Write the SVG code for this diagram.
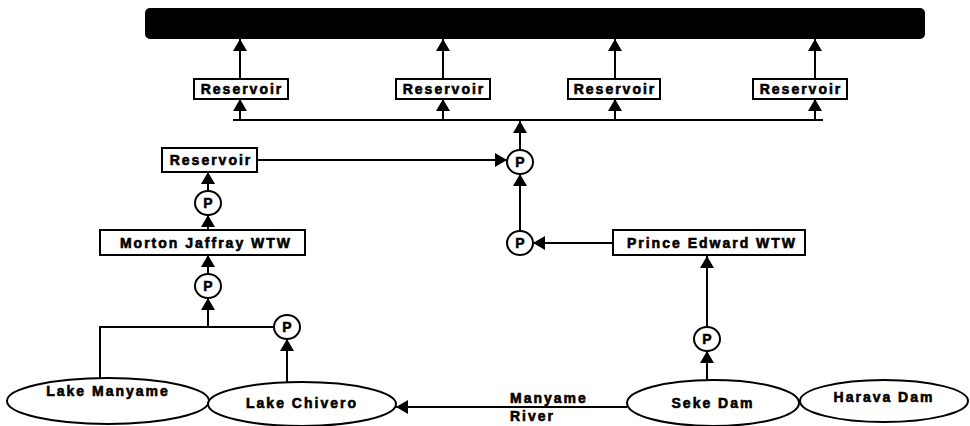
<svg xmlns="http://www.w3.org/2000/svg" width="970" height="426" viewBox="0 0 970 426">
<defs>
<marker id="ah" viewBox="0 0 12 14" refX="12" refY="7" markerWidth="12" markerHeight="14" markerUnits="userSpaceOnUse" orient="auto">
<path d="M0,0 L12,7 L0,14 Z" fill="#000"/>
</marker>
<style>
.box{fill:#fff;stroke:#000;stroke-width:2}
.pump{fill:#fff;stroke:#000;stroke-width:2}
.lake{fill:#fff;stroke:#000;stroke-width:2}
.t{font-family:"Liberation Sans",Arial,sans-serif;font-weight:bold;font-size:14px;letter-spacing:2px;fill:#000;stroke:#000;stroke-width:0.6px;text-anchor:middle}
.p{font-family:"Liberation Sans",Arial,sans-serif;font-weight:bold;font-size:14px;fill:#000;stroke:#000;stroke-width:0.5px;text-anchor:middle}
.c{fill:none;stroke:#000;stroke-width:2}
.a{fill:none;stroke:#000;stroke-width:2;marker-end:url(#ah)}
</style>
</defs>
<rect width="970" height="426" fill="#fff"/>

<g id="connectors">
<line class="a" x1="240" y1="79" x2="240" y2="39"/>
<line class="a" x1="443" y1="79" x2="443" y2="39"/>
<line class="a" x1="615" y1="79" x2="615" y2="39"/>
<line class="a" x1="815" y1="79" x2="815" y2="39"/>
<line class="c" x1="233" y1="120" x2="823" y2="120"/>
<line class="a" x1="240" y1="120" x2="240" y2="99"/>
<line class="a" x1="443" y1="120" x2="443" y2="99"/>
<line class="a" x1="615" y1="120" x2="615" y2="99"/>
<line class="a" x1="815" y1="120" x2="815" y2="99"/>
<line class="a" x1="520" y1="150" x2="520" y2="121"/>
<line class="a" x1="257" y1="160" x2="507" y2="160"/>
<line class="a" x1="520" y1="231" x2="520" y2="174"/>
<line class="a" x1="613" y1="243" x2="533" y2="243"/>
<line class="a" x1="707" y1="327" x2="707" y2="256"/>
<line class="a" x1="707" y1="380" x2="707" y2="351"/>
<line class="a" x1="627" y1="407" x2="396" y2="407"/>
<line class="a" x1="287" y1="382" x2="287" y2="339"/>
<polyline class="c" points="274,327 100,327 100,380"/>
<line class="a" x1="208" y1="327" x2="208" y2="298"/>
<line class="a" x1="208" y1="274" x2="208" y2="255"/>
<line class="a" x1="208" y1="230" x2="208" y2="215"/>
<line class="a" x1="208" y1="191" x2="208" y2="172"/>
</g>

<g id="supply-bar"><rect x="145" y="8" width="780" height="31" rx="5" fill="#000"/></g>

<g id="res1"><rect class="box" x="194" y="79" width="94" height="20"/><text class="t" x="242" y="94">Reservoir</text></g>
<g id="res2"><rect class="box" x="396" y="79" width="94" height="20"/><text class="t" x="444" y="94">Reservoir</text></g>
<g id="res3"><rect class="box" x="568" y="79" width="92" height="20"/><text class="t" x="615" y="94">Reservoir</text></g>
<g id="res4"><rect class="box" x="753" y="79" width="94" height="20"/><text class="t" x="801" y="94">Reservoir</text></g>
<g id="res-left"><rect class="box" x="162" y="148" width="95" height="24"/><text class="t" x="211" y="165">Reservoir</text></g>

<g id="p1"><ellipse class="pump" cx="520" cy="162" rx="13" ry="12"/><text class="p" x="520" y="167">P</text></g>
<g id="p2"><ellipse class="pump" cx="520" cy="243" rx="13" ry="12"/><text class="p" x="520" y="248">P</text></g>
<g id="p3"><ellipse class="pump" cx="707" cy="339" rx="13" ry="12"/><text class="p" x="707" y="344">P</text></g>
<g id="p4"><ellipse class="pump" cx="287" cy="327" rx="13" ry="12"/><text class="p" x="287" y="332">P</text></g>
<g id="p5"><ellipse class="pump" cx="208" cy="286" rx="13" ry="12"/><text class="p" x="208" y="291">P</text></g>
<g id="p6"><ellipse class="pump" cx="208" cy="203" rx="13" ry="12"/><text class="p" x="208" y="208">P</text></g>

<g id="morton"><rect class="box" x="100" y="230" width="205" height="25"/><text class="t" x="206" y="248">Morton Jaffray WTW</text></g>
<g id="prince"><rect class="box" x="613" y="230" width="192" height="25"/><text class="t" x="712" y="248">Prince Edward WTW</text></g>

<g id="lake-manyame"><ellipse class="lake" cx="108" cy="401" rx="101" ry="23"/><text class="t" x="108" y="396">Lake Manyame</text></g>
<g id="lake-chivero"><ellipse class="lake" cx="302" cy="404" rx="94" ry="22"/><text class="t" x="302" y="408">Lake Chivero</text></g>
<g id="seke"><ellipse class="lake" cx="713" cy="403" rx="86" ry="23"/><text class="t" x="713" y="408">Seke Dam</text></g>
<g id="harava"><ellipse class="lake" cx="884" cy="401" rx="84" ry="21"/><text class="t" x="884" y="402">Harava Dam</text></g>

<g id="river-label">
<text class="t" x="510" y="403" style="text-anchor:start">Manyame</text>
<text class="t" x="510" y="421" style="text-anchor:start">River</text>
</g>
</svg>
